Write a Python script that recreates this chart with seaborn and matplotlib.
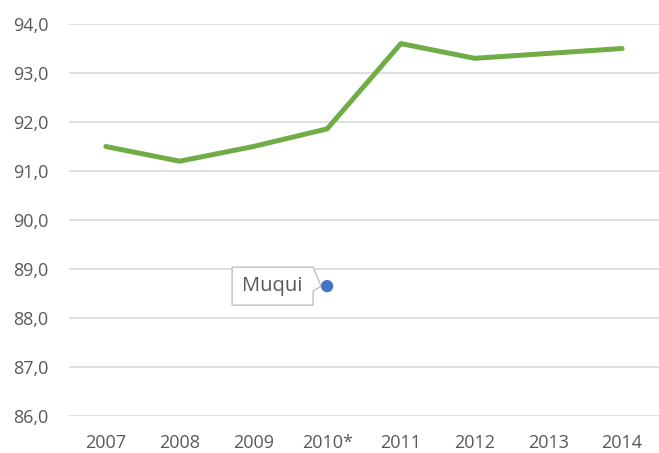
import matplotlib
matplotlib.use("Agg")
import matplotlib.pyplot as plt
import seaborn as sns
import pandas as pd
from matplotlib.ticker import FuncFormatter
from matplotlib.patches import Polygon
from matplotlib.transforms import Affine2D, ScaledTranslation

years = ["2007", "2008", "2009", "2010*", "2011", "2012", "2013", "2014"]
values = [91.5, 91.2, 91.5, 91.86, 93.6, 93.3, 93.4, 93.5]
point_label = "Muqui"
point_year = "2010*"
point_value = 88.65
y_ticks = [86, 87, 88, 89, 90, 91, 92, 93, 94]

sns.set_theme(style="white")
plt.rcParams['font.family'] = ['Open Sans', 'DejaVu Sans']

fig = plt.figure(figsize=(6.59, 4.53), dpi=100)
ax = fig.add_axes([69/659, 37/453, 590/659, 392/453])

df = pd.DataFrame({"year": years, "value": values})
sns.lineplot(data=df, x="year", y="value", sort=False, color="#70AD47",
             linewidth=3.6, ax=ax, solid_capstyle="round", solid_joinstyle="round", zorder=3)
pt = pd.DataFrame({"year": [point_year], "value": [point_value]})
sns.scatterplot(data=pt, x="year", y="value", color="#4472C4", s=78,
                edgecolor="none", ax=ax, zorder=6)

ax.set_xlim(-0.5, len(years) - 0.5)
ax.set_ylim(86, 94)

# callout box (shape in points relative to the data point)
px = 0.72
shape = [(-95, 19), (-14, 19), (-6, 0), (-14, -5), (-14, -19), (-95, -19)]
shape_pt = [(a * px, b * px) for a, b in shape]
xi = years.index(point_year)
trans = Affine2D().scale(fig.dpi / 72.0) + ScaledTranslation(xi, point_value, ax.transData)
callout = Polygon(shape_pt, closed=True, fc="white", ec="#BFBFBF", lw=1.0,
                  transform=trans, zorder=5, joinstyle="miter")
ax.add_patch(callout)
ax.text(-54.5 * px, 0, point_label, transform=trans, ha="center", va="center",
        fontsize=14.5, color="#595959", zorder=7)

ax.set_yticks(y_ticks)
ax.yaxis.set_major_formatter(FuncFormatter(lambda v, p: f"{v:.1f}".replace(".", ",")))
ax.grid(axis="y", color="#D9D9D9", linewidth=1.2)
ax.set_axisbelow(True)
for s in ax.spines.values():
    s.set_visible(False)
ax.set_xlabel("")
ax.set_ylabel("")
ax.tick_params(axis="both", colors="#595959", labelsize=13, length=0)
ax.tick_params(axis="x", pad=13)
ax.tick_params(axis="y", pad=15)

fig.savefig("out.png", dpi=100)
